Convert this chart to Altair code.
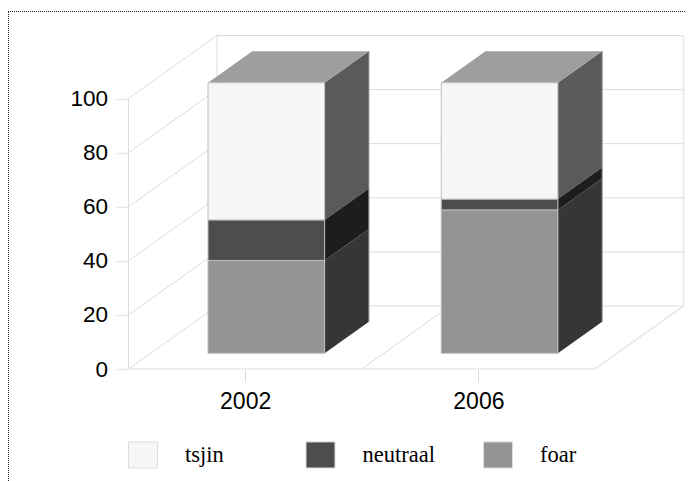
import altair as alt
import pandas as pd

years = ["2002", "2006"]
tsjin = [50.7, 43.0]
neutraal = [15.0, 4.0]
foar = [34.3, 53.0]
series_names = ["tsjin", "neutraal", "foar"]
y_ticks = [0, 20, 40, 60, 80, 100]

W, H = 678, 473
X_RANGE = [120.5, 587.0]
Y_RANGE = [361.0, 90.5]
DX = 88.5 / 233.25
DY = 63.0 / 2.705
D0, D1 = 0.25, 0.75
BAR_LEFT, BAR_RIGHT = 0.246, 0.746

front_colors = ["#f6f6f6", "#4d4d4d", "#949494"]
side_colors = {"tsjin": "#5a5a5a", "neutraal": "#1d1d1d", "foar": "#363636"}
top_color = "#9e9e9e"
GRID = "#dcdcdc"
EDGE = "#e8e8e8"

x_scale = alt.Scale(domain=[0, 2], range=X_RANGE, nice=False, zero=False)
y_scale = alt.Scale(domain=[0, 100], range=Y_RANGE, nice=False, zero=False)

x_axis = alt.Axis(
    title=None, values=[0.5, 1.5], grid=False, domain=False,
    labelExpr=f"datum.value < 1 ? '{years[0]}' : '{years[1]}'",
    tickColor=GRID, tickSize=13, tickWidth=1, offset=-(H - Y_RANGE[0]),
    labelFont="Liberation Sans", labelFontSize=23, labelColor="#000000",
    labelPadding=8,
)
y_axis = alt.Axis(
    title=None, values=y_ticks, grid=False, domain=False,
    tickColor=EDGE, tickSize=13, tickWidth=1.5, offset=-X_RANGE[0],
    labelFont="Liberation Sans", labelFontSize=22.5, labelColor="#000000",
    labelPadding=8,
)


def proj(x, y, d):
    return x + d * DX, y + d * DY


grid_rows = []
def add_line(name, pts):
    for i, (x, y, d) in enumerate(pts):
        px, py = proj(x, y, d)
        grid_rows.append({"line": name, "i": i, "x": px, "y": py})

for v in y_ticks:
    add_line(f"wall{v}", [(0, v, 0), (0, v, 1), (2, v, 1)])
add_line("front_left", [(0, 0, 0), (0, 100, 0)])
add_line("back_left", [(0, 0, 1), (0, 100, 1)])
add_line("floor1", [(1, 0, 0), (1, 0, 1)])
grid_df = pd.DataFrame(grid_rows)

edge_rows = []
for i, (x, y, d) in enumerate([(0, 0, 0), (2, 0, 0), (2, 0, 1), (2, 100, 1)]):
    px, py = proj(x, y, d)
    edge_rows.append({"i": i, "x": px, "y": py})
edge_df = pd.DataFrame(edge_rows)

front_rows, side_rows, top_rows, back_rows = [], [], [], []
for k, year in enumerate(years):
    base = 0.0
    left, right = k + BAR_LEFT, k + BAR_RIGHT
    for name, vals in [("foar", foar), ("neutraal", neutraal), ("tsjin", tsjin)]:
        top = base + vals[k]
        x0, y0 = proj(left, base, D0)
        x1, y1 = proj(right, top, D0)
        front_rows.append({"year": year, "serie": name, "x": x0, "x2": x1, "y": y0, "y2": y1})
        for d in (D0, D1):
            sx, sy = proj(right, base, d)
            _, sy2 = proj(right, top, d)
            side_rows.append({"year": year, "serie": name, "x": sx, "y": sy, "y2": sy2})
        base = top
    for d in (D0, D1):
        lx, ty = proj(left, base, d)
        rx, _ = proj(right, base, d)
        top_rows.append({"year": year, "x": lx, "x2": rx, "y": ty})
    for v in (0.0, base):
        bx, by = proj(right, v, D1)
        back_rows.append({"year": year, "x": bx, "y": by})
front_df = pd.DataFrame(front_rows)
side_df = pd.DataFrame(side_rows)
top_df = pd.DataFrame(top_rows)
back_df = pd.DataFrame(back_rows)
ticks_df = pd.DataFrame({"v": y_ticks})

X = alt.X("x:Q", scale=x_scale, axis=x_axis)
Y = alt.Y("y:Q", scale=y_scale, axis=y_axis, stack=None)

grid = alt.Chart(grid_df).mark_line(color=GRID, strokeWidth=1).encode(
    x=X, y=Y, detail="line:N", order="i:Q",
)
edge = alt.Chart(edge_df).mark_line(color=EDGE, strokeWidth=1.6).encode(
    x=X, y=Y, order="i:Q",
)

sides = [
    alt.Chart(side_df[side_df["serie"] == name]).mark_area(color=side_colors[name]).encode(
        x=X, y=Y, y2="y2:Q", detail="year:N",
    )
    for name in series_names
]

back_edges = alt.Chart(back_df).mark_line(color="#8a8a8a", strokeWidth=1).encode(
    x=X, y=Y, detail="year:N",
)

tops = alt.Chart(top_df).mark_area(color=top_color, orient="horizontal").encode(
    y=Y,
    x=alt.X("x:Q", scale=x_scale, axis=x_axis, stack=None),
    x2="x2:Q",
    detail="year:N",
)

front = alt.Chart(front_df).mark_bar(stroke="#bdbdbd", strokeWidth=1).encode(
    x=X, x2="x2:Q", y=Y, y2="y2:Q",
    color=alt.Color(
        "serie:N",
        scale=alt.Scale(domain=series_names, range=front_colors),
        legend=alt.Legend(
            title=None, orient="none", legendX=120, legendY=431.5,
            direction="horizontal", columns=3, gridAlign="all", columnPadding=45.5,
            symbolType="M-1,-0.9H1V0.9H-1Z", symbolSize=841, symbolStrokeColor="#dddddd",
            symbolStrokeWidth=1, labelOffset=27,
            labelFont="Liberation Serif", labelFontSize=22.5, labelColor="#000000",
        ),
    ),
)

border_top = alt.Chart(ticks_df).mark_rule(color="#222222", strokeDash=[1, 1], strokeWidth=1).encode(
    x=alt.value(0), x2=alt.value(W), y=alt.value(3.5)
)
border_left = alt.Chart(ticks_df).mark_rule(color="#222222", strokeDash=[1, 1], strokeWidth=1).encode(
    x=alt.value(0.5), y=alt.value(4), y2=alt.value(H)
)

chart = alt.layer(grid, edge, *sides, back_edges, tops, front, border_top, border_left).properties(
    width=W, height=H, padding=0, autosize=alt.AutoSizeParams(type="none")
).configure_view(stroke=None)

chart.save("out.html", embed_options={"renderer": "svg", "actions": False})
